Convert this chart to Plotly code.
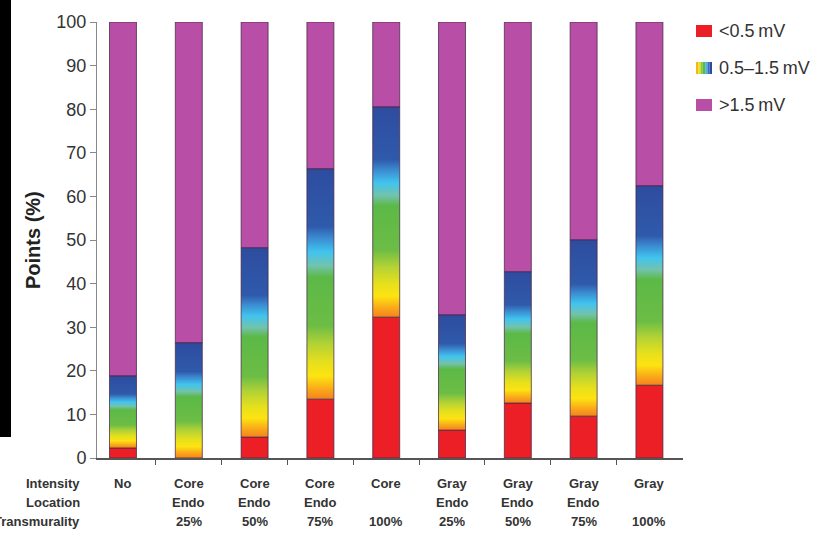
import plotly.graph_objects as go

# ---- data -------------------------------------------------------------
intensity = ["No", "Core", "Core", "Core", "Core", "Gray", "Gray", "Gray", "Gray"]
location = ["", "Endo", "Endo", "Endo", "", "Endo", "Endo", "Endo", ""]
transmurality = ["", "25%", "50%", "75%", "100%", "25%", "50%", "75%", "100%"]

# share of points (%) per voltage band
low = [2.3, 0.0, 4.8, 13.5, 32.3, 6.4, 12.6, 9.6, 16.7]        # <0.5 mV
mid = [16.5, 26.4, 43.4, 52.8, 48.2, 26.4, 30.1, 40.4, 45.7]   # 0.5-1.5 mV
high = [81.2, 73.6, 51.8, 33.7, 19.5, 67.2, 57.3, 50.0, 37.6]  # >1.5 mV

legend_labels = ["<0.5\u2009mV", "0.5\u20131.5\u2009mV", ">1.5\u2009mV"]

# ---- styling ----------------------------------------------------------
W, H = 820, 542
ML, MR, MT, MB = 97, 137, 22, 84
FONT = "Liberation Sans, Arial, sans-serif"
RED = "#ec1f27"
PURPLE = "#b84ea6"
EDGE = "rgba(70,40,70,0.75)"
BAR_W = 0.41
RAINBOW = [
    [0.00, "#f5821f"], [0.04, "#f9a51a"], [0.10, "#fde311"], [0.16, "#e6e01c"],
    [0.24, "#b3d235"], [0.32, "#6cbd45"], [0.53, "#5cb947"], [0.58, "#72c3ae"],
    [0.64, "#40c4ef"], [0.70, "#3b8bd0"], [0.75, "#2f5aab"], [1.00, "#2e4c9f"],
]

PW, PH = W - ML - MR, H - MT - MB


def px_x(px):
    return (px - ML) / PW


def px_y(py):
    return (H - MB - py) / PH


xs = list(range(len(intensity)))
mid_base = [l for l in low]
high_base = [l + m for l, m in zip(low, mid)]

fig = go.Figure()

fig.add_trace(go.Bar(
    x=xs, y=low, width=BAR_W, marker=dict(color=RED, line=dict(color=EDGE, width=1)),
    showlegend=False, hoverinfo="skip"))
fig.add_trace(go.Bar(
    x=xs, y=high, base=high_base, width=BAR_W,
    marker=dict(color=PURPLE, line=dict(color=EDGE, width=1)),
    showlegend=False, hoverinfo="skip"))

# middle band: rectangle filled with a vertical rainbow gradient
for x, b, m in zip(xs, mid_base, mid):
    x0, x1 = x - BAR_W / 2, x + BAR_W / 2
    fig.add_trace(go.Scatter(
        x=[x0, x1, x1, x0, x0], y=[b, b, b + m, b + m, b],
        mode="lines", fill="toself",
        fillgradient=dict(type="vertical", colorscale=RAINBOW, start=b, stop=b + m),
        line=dict(color=EDGE, width=1),
        showlegend=False, hoverinfo="skip"))

fig.update_layout(barmode="overlay")

annotations = []
# category labels under the bars
rows_y = [483, 502, 521]
for x, a, b, c in zip(xs, intensity, location, transmurality):
    for txt, py in zip([a, b, c], rows_y):
        if txt:
            annotations.append(dict(
                x=x, y=px_y(py), xref="x", yref="paper", text=f"<b>{txt}</b>",
                showarrow=False, xanchor="center", yanchor="middle",
                font=dict(family=FONT, size=13, color="#333333")))
for txt, py in zip(["Intensity", "Location", "Transmurality"], rows_y):
    annotations.append(dict(
        x=px_x(82), y=px_y(py), xref="paper", yref="paper", text=f"<b>{txt}</b>",
        showarrow=False, xanchor="right", yanchor="middle",
        font=dict(family=FONT, size=13, color="#333333")))

# y-axis title
annotations.append(dict(
    x=px_x(33), y=0.5, xref="paper", yref="paper", text="<b>Points (%)</b>",
    textangle=-90, showarrow=False, xanchor="center", yanchor="middle",
    font=dict(family=FONT, size=20, color="#222222")))

shapes = []
# dark strip along the left edge
shapes.append(dict(type="rect", xref="paper", yref="paper",
                   x0=px_x(-2), x1=px_x(11), y0=px_y(437), y1=px_y(-2),
                   fillcolor="black", line=dict(width=0), layer="above"))

# legend
leg_y = [31, 68, 105]
ix0, ix1 = 696, 712
for i, (lab, py) in enumerate(zip(legend_labels, leg_y)):
    if i == 1:
        stripes = ["#f5b51b", "#e8e21a", "#8cc63f", "#5cb947", "#45b8e0",
                   "#3a6cc0", "#2f4a9c"]
        sw = (ix1 - ix0) / len(stripes)
        for k, col in enumerate(stripes):
            shapes.append(dict(type="rect", xref="paper", yref="paper",
                               x0=px_x(ix0 + k * sw), x1=px_x(ix0 + (k + 1) * sw),
                               y0=px_y(py + 6), y1=px_y(py - 6),
                               fillcolor=col, line=dict(width=0)))
    else:
        shapes.append(dict(type="rect", xref="paper", yref="paper",
                           x0=px_x(ix0), x1=px_x(ix1),
                           y0=px_y(py + 6), y1=px_y(py - 6),
                           fillcolor=RED if i == 0 else PURPLE, line=dict(width=0)))
    annotations.append(dict(
        x=px_x(717), y=px_y(py), xref="paper", yref="paper", text=lab,
        showarrow=False, xanchor="left", yanchor="middle",
        font=dict(family=FONT, size=18, color="#333333")))

fig.update_layout(
    width=W, height=H,
    margin=dict(l=ML, r=MR, t=MT, b=MB),
    paper_bgcolor="white", plot_bgcolor="white",
    showlegend=False,
    font=dict(family=FONT),
    annotations=annotations, shapes=shapes,
    xaxis=dict(
        range=[-0.395, 8.51], showgrid=False, zeroline=False,
        showline=True, linecolor="#555555", linewidth=1.5,
        tickvals=[i + 0.5 for i in range(len(xs) - 1)], ticks="outside",
        ticklen=5, tickcolor="#555555", showticklabels=False, fixedrange=True),
    yaxis=dict(
        range=[0, 100], showgrid=False, zeroline=False,
        showline=True, linecolor="#888888", linewidth=1,
        tickvals=list(range(0, 101, 10)), ticks="outside", ticklen=6,
        tickcolor="#888888",
        tickfont=dict(family=FONT, size=18, color="#333333")),
)

fig.write_html("out.html")
